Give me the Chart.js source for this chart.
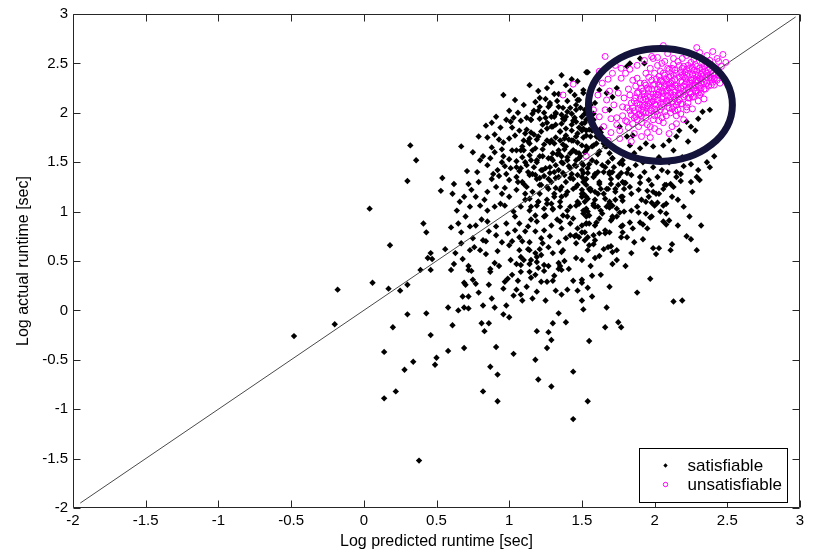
<!DOCTYPE html>
<html>
<head>
<meta charset="utf-8">
<title>Predicted vs actual runtime</title>
<script src="https://cdn.jsdelivr.net/npm/chart.js@4/dist/chart.umd.min.js"></script>
<style>
  html, body { margin: 0; padding: 0; background: #fff; }
  #wrap { width: 818px; height: 553px; }
</style>
</head>
<body>
<div id="wrap"><canvas id="runtimeChart" width="818" height="553"></canvas></div>
<script>
// ---- data ----
const seriesNames = ["satisfiable", "unsatisfiable"];
const xTitle = "Log predicted runtime [sec]";
const yTitle = "Log actual runtime [sec]";

const xTicks = [-2, -1.5, -1, -0.5, 0, 0.5, 1, 1.5, 2, 2.5, 3];
const xTickLabels = ["-2", "-1.5", "-1", "-0.5", "0", "0.5", "1", "1.5", "2", "2.5", "3"];
const yTicks = [-2, -1.5, -1, -0.5, 0, 0.5, 1, 1.5, 2, 2.5, 3];
const yTickLabels = ["-2", "-1.5", "-1", "-0.5", "0", "0.5", "1", "1.5", "2", "2.5", "3"];

// y = x reference line
const diagonal = [[-1.95, -1.95], [2.97, 2.97]];

// satisfiable instances [predicted, actual]
const satisfiable = [
  [0.32,1.67],[0.36,1.52],[0.30,1.31],[0.04,1.03],[0.41,0.88],[0.43,0.79],[0.18,0.66],[0.46,0.58],[0.44,0.53],[0.47,0.52],
  [0.39,0.41],[0.46,0.41],[-0.18,0.21],[0.06,0.28],[0.17,0.22],[0.25,0.20],[0.30,0.26],[0.30,-0.04],[0.43,-0.03],[0.20,-0.17],
  [0.46,-0.25],[-0.20,-0.14],[-0.48,-0.26],[0.14,-0.42],[0.50,-0.48],[0.49,-0.55],[0.34,-0.52],[0.28,-0.60],[0.22,-0.82],[0.14,-0.89],
  [0.38,-1.52],
  [0.63,0.58],[0.73,0.61],[0.80,0.61],[0.84,0.57],[0.62,0.47],[0.60,0.41],[0.72,0.45],[0.72,0.41],[0.69,0.28],[0.70,0.26],
  [0.75,0.31],[0.77,0.27],[0.68,0.14],[0.72,0.14],[0.58,0.03],[0.65,0.00],[0.69,0.03],[0.72,0.02],[0.61,-0.15],[0.82,0.05],
  [0.90,0.03],[0.81,-0.13],[0.86,-0.13],[0.83,-0.21],[0.96,-0.04],[1.00,-0.07],[0.87,0.39],[0.90,0.48],[0.87,0.42],[0.86,0.26],
  [1.01,0.51],[0.96,0.22],[0.97,0.29],[0.99,0.32],[1.02,0.36],[1.03,0.15],[1.08,0.16],[1.05,0.21],[1.09,0.10],[1.12,0.24],
  [1.07,0.61],[1.14,0.61],[1.08,0.54],[1.10,0.51],[1.05,0.47],[1.08,0.46],[1.14,0.47],[1.08,0.39],[1.14,0.39],[1.18,0.58],
  [1.19,0.54],[1.22,0.56],[1.15,0.51],[1.19,0.49],[1.24,0.46],[1.20,0.43],[1.18,0.36],[1.15,0.33],[1.24,0.40],[1.22,0.29],
  [1.26,0.29],[1.30,0.30],[1.31,0.35],[1.19,0.19],[1.25,0.10],[1.34,0.48],[1.35,0.45],[1.34,0.42],[1.36,0.41],[1.36,0.59],
  [1.37,0.61],[1.46,0.53],[1.50,0.51],[1.44,0.30],[1.50,0.31],[1.50,0.28],[1.40,0.21],[1.36,0.16],[1.54,0.23],[1.50,0.10],
  [1.51,0.01],[1.34,-0.03],[1.30,-0.13],[1.39,-0.12],[1.19,-0.21],[1.27,-0.22],[1.29,-0.30],[1.26,-0.38],[0.91,-0.37],[0.69,-0.38],
  [0.58,-0.41],[1.03,-0.44],[1.18,-0.50],[0.87,-0.57],[0.92,-0.65],[1.20,-0.70],[1.29,-0.77],[1.44,-0.62],[0.82,-0.82],[0.92,-0.92],
  [1.44,-1.10],[1.54,-0.92],[1.55,-0.31],
  [1.51,1.39],[1.54,1.39],[1.59,1.38],[1.61,1.40],[1.69,1.38],[1.71,1.40],[1.77,1.39],[1.84,1.37],[1.90,1.35],[1.90,1.29],
  [1.93,1.40],[2.02,1.35],[2.09,1.40],[2.15,1.40],[2.18,1.38],[2.18,1.31],[2.11,1.28],[2.08,1.27],[2.13,1.25],[2.29,1.35],
  [2.31,1.32],[1.51,1.30],[1.53,1.27],[1.50,1.22],[1.56,1.23],[1.59,1.20],[1.63,1.23],[1.65,1.18],[1.68,1.23],[1.70,1.28],
  [1.73,1.23],[1.75,1.27],[1.78,1.30],[1.79,1.23],[1.84,1.18],[1.78,1.15],[1.89,1.22],[1.95,1.21],[1.98,1.27],[1.99,1.20],
  [2.01,1.18],[2.03,1.18],[2.06,1.23],[2.07,1.27],[2.16,1.12],[1.91,1.12],[1.94,1.10],[1.98,1.09],[2.00,1.06],[2.02,1.09],
  [2.06,1.06],[2.08,1.08],[1.50,1.15],[1.52,1.10],[1.54,1.13],[1.58,1.08],[1.59,1.12],[1.61,1.05],[1.66,1.13],[1.69,1.10],
  [1.71,1.06],[1.53,1.03],[1.54,1.00],[1.55,0.96],[1.51,0.98],[1.59,1.05],[1.67,1.05],[1.69,1.04],[1.76,0.99],[1.84,1.01],
  [1.89,0.99],[1.94,0.98],[1.97,0.94],[1.98,0.95],[2.08,0.98],[1.70,0.91],[1.71,0.93],[1.74,0.95],[1.78,0.86],[1.77,0.85],
  [1.83,0.89],[1.85,0.83],[1.90,0.89],[1.92,0.87],[1.95,0.83],[2.06,0.90],[2.08,0.87],[2.10,0.91],[2.16,0.86],[2.32,0.86],
  [1.50,0.86],[1.53,0.88],[1.55,0.88],[1.59,0.86],[1.60,0.89],[1.50,0.79],[1.48,0.74],[1.54,0.74],[1.58,0.76],[1.59,0.71],
  [1.58,0.67],[1.62,0.78],[1.66,0.81],[1.66,0.78],[1.69,0.79],[1.78,0.79],[1.81,0.74],[1.77,0.74],[1.86,0.69],[2.22,0.75],
  [2.25,0.72],[2.29,0.61],[2.12,0.67],[2.11,0.61],[1.99,0.63],[2.03,0.63],[2.01,0.57],[1.65,0.62],[1.68,0.64],[1.70,0.65],
  [1.74,0.61],[1.71,0.59],[1.54,0.61],[1.59,0.53],[1.56,0.45],[1.84,0.58],[1.74,0.51],[1.71,0.47],[1.63,0.36],[1.69,0.24],
  [1.57,0.14],[1.67,0.03],[1.88,0.18],[1.97,0.32],[2.13,0.09],[2.19,0.10],[1.75,-0.12],[1.77,-0.17],[1.66,-0.17],
  [1.36,2.38],[1.43,2.34],[1.29,2.31],[1.14,2.28],[0.96,2.18],[1.04,2.13],[1.10,2.08],[1.18,2.11],[1.21,2.15],[1.25,2.14],
  [1.31,2.19],[1.34,2.19],[1.42,2.22],[1.53,2.41],[1.28,2.10],[1.27,2.06],[1.34,2.06],[1.37,2.05],[1.40,2.01],[1.45,2.18],
  [1.47,2.13],[1.51,2.20],[0.84,1.87],[0.88,1.90],[0.91,1.96],[0.98,1.93],[1.01,1.91],[1.03,1.95],[1.15,1.93],[1.21,1.94],
  [1.25,1.95],[1.29,1.96],[1.32,2.00],[1.36,1.98],[1.39,1.96],[1.43,1.99],[1.46,2.03],[1.50,1.96],[1.53,1.93],[0.79,1.76],
  [0.85,1.75],[0.93,1.73],[1.00,1.74],[1.04,1.77],[1.07,1.82],[1.12,1.83],[1.15,1.80],[1.19,1.73],[1.22,1.81],[1.26,1.84],
  [1.29,1.86],[1.32,1.88],[1.36,1.89],[1.39,1.84],[1.43,1.88],[1.46,1.91],[1.50,1.82],[1.53,1.77],[0.67,1.66],[0.88,1.65],
  [0.95,1.63],[1.05,1.62],[1.09,1.66],[1.14,1.69],[1.18,1.64],[1.24,1.68],[1.29,1.72],[1.32,1.75],[1.35,1.72],[1.39,1.77],
  [1.43,1.72],[1.46,1.76],[1.50,1.67],[1.53,1.66],[0.87,1.54],[0.96,1.56],[1.00,1.53],[1.05,1.51],[1.09,1.55],[1.15,1.52],
  [1.21,1.56],[1.27,1.54],[1.30,1.59],[1.34,1.62],[1.38,1.63],[1.42,1.59],[1.46,1.60],[1.48,1.54],[0.71,1.41],[0.85,1.47],
  [0.92,1.42],[0.97,1.46],[1.01,1.44],[1.07,1.41],[1.12,1.47],[1.17,1.45],[1.23,1.42],[1.28,1.45],[1.32,1.47],[1.37,1.49],
  [1.42,1.44],[1.46,1.46],[1.51,1.47],[0.54,1.34],[0.79,1.30],[0.88,1.33],[0.93,1.36],[1.00,1.32],[1.05,1.35],[1.09,1.30],
  [1.14,1.37],[1.19,1.33],[1.24,1.36],[1.29,1.30],[1.34,1.35],[1.38,1.37],[1.44,1.33],[1.50,1.35],[0.53,1.21],[0.61,1.18],
  [0.69,1.15],[0.77,1.15],[0.85,1.20],[0.91,1.25],[0.95,1.18],[1.00,1.15],[1.05,1.22],[1.11,1.18],[1.14,1.13],[1.21,1.18],
  [1.26,1.25],[1.31,1.15],[1.35,1.22],[1.39,1.17],[1.44,1.23],[1.50,1.18],[1.53,1.15],[0.64,1.01],[0.73,1.05],[0.80,1.06],
  [0.85,1.01],[0.90,1.05],[0.97,1.06],[1.03,1.00],[1.08,1.05],[1.14,1.01],[1.19,1.06],[1.24,1.03],[1.29,1.08],[1.35,1.05],
  [1.40,1.01],[1.46,1.06],[1.51,1.01],[0.60,0.84],[0.65,0.88],[0.67,0.79],[0.73,0.85],[0.77,0.86],[0.85,0.90],[0.91,0.85],
  [0.98,0.88],[1.04,0.81],[1.07,0.88],[1.13,0.85],[1.19,0.90],[1.24,0.81],[1.29,0.86],[1.36,0.83],[1.42,0.88],[1.47,0.83],
  [1.53,0.88],[0.56,0.62],[0.67,0.68],[0.75,0.73],[0.82,0.71],[0.91,0.76],[0.95,0.69],[1.00,0.66],[1.07,0.74],[1.14,0.69],
  [1.22,0.73],[1.27,0.64],[1.34,0.69],[1.39,0.73],[1.46,0.68],[1.52,0.71],[1.42,0.76],[1.46,0.76],[1.52,0.79],
  [1.54,2.41],[1.51,2.23],[1.48,2.13],[1.52,2.03],[1.50,1.89],[1.53,1.82],[1.56,1.76],[1.58,1.67],[1.62,1.74],[1.66,1.66],
  [1.69,1.59],[1.71,1.54],[1.75,1.62],[1.78,1.52],[1.83,1.67],[1.86,1.59],[1.90,1.64],[1.94,1.69],[1.99,1.66],[2.06,1.67],
  [2.10,1.72],[2.15,1.76],[2.17,1.82],[2.22,1.91],[2.25,1.86],[2.30,1.94],[2.33,2.01],[2.38,2.03],[2.28,1.82],[2.23,1.71],
  [2.13,1.62],[2.03,1.55],[2.19,1.55],[2.30,1.42],[2.38,1.45],[1.81,2.47],[1.83,2.50],[1.93,2.50],[1.90,2.55],[1.62,2.23],
  [1.67,2.20],[1.71,2.16],[1.74,2.25],[1.59,2.10],[1.58,1.99],[1.69,2.03],[1.76,1.86],[1.63,1.84],[1.81,1.76],[1.85,1.77],
  [1.59,2.33],[1.52,1.60],[2.30,1.60],[2.36,1.50],[2.25,1.48],[2.41,1.56],
  [1.12,1.95],[1.17,1.78],[1.20,2.02],[1.23,1.63],[1.26,1.90],[1.28,1.70],[1.31,1.96],[1.33,1.58],[1.35,1.81],[1.37,1.68],
  [1.38,1.93],[1.40,1.55],[1.41,1.73],[1.43,1.82],[1.44,1.62],[1.45,1.95],[1.47,1.70],[1.48,1.85],[1.49,1.56],[1.51,1.75],
  [1.52,1.90],[1.54,1.64],[1.55,1.83],[1.57,1.52],[1.58,1.93],[1.60,1.69],[1.61,1.58],[1.63,1.80],[1.64,1.47],[1.66,1.72],
  [1.16,1.38],[1.19,1.50],[1.22,1.27],[1.25,1.44],[1.27,1.33],[1.30,1.52],[1.32,1.24],[1.34,1.42],[1.36,1.56],[1.39,1.30],
  [1.41,1.46],[1.43,1.38],[1.46,1.52],[1.47,1.27],[1.50,1.42],[1.53,1.33],[1.55,1.48],[1.56,1.21],[1.59,1.37],[1.62,1.28],
  [1.65,1.40],[1.68,1.50],[1.70,1.33],[1.72,1.45],[1.75,1.36],[1.78,1.48],[1.80,1.29],[1.82,1.43],[1.87,1.47],[1.92,1.50],
  [1.96,1.32],[1.99,1.45],[2.05,1.42],[2.10,1.50],[2.15,1.35],[2.20,1.46],[2.25,1.30],[1.05,1.45],[1.08,1.62],[1.10,1.28],
  [1.13,1.71],[0.98,1.38],[1.02,1.85],[0.95,1.50],[1.06,2.00],[0.90,1.78],[0.82,1.56],[1.20,1.10],[1.30,1.02],[1.40,0.95],
  [1.48,1.08],[1.35,0.90],[1.25,0.96],[1.15,0.92],[1.45,0.75],[1.55,0.66],[1.30,0.58],
  [1.15,1.93],[1.16,1.99],[1.21,2.06],[1.28,2.08],[1.32,1.99],[1.37,1.94],[1.42,2.05],[1.46,2.08],[1.52,1.99],[1.23,1.88],
  [1.30,1.86],[1.35,1.81],[1.11,1.79],[1.14,1.74],[1.20,1.76],[1.26,1.72],[1.31,1.69],[1.38,1.74],[1.44,1.72],[1.47,1.79],
  [1.51,1.84],[1.57,1.82],[1.60,1.76],[1.65,1.69],[1.39,1.66],[1.44,1.62],[1.48,1.59],[1.53,1.62],[1.57,1.66],[1.62,1.61],
  [1.67,1.66],[1.10,1.62],[1.14,1.57],[1.19,1.52],[1.23,1.56],[1.29,1.54],[1.34,1.59],[1.36,1.50],[1.40,1.52],[1.45,1.47],
  [1.50,1.49],[1.54,1.44],[1.60,1.50],[1.66,1.45],[1.71,1.54],[1.76,1.49],[1.81,1.57],[1.08,1.44],[1.13,1.40],[1.18,1.37],
  [1.22,1.42],[1.28,1.39],[1.32,1.34],[1.37,1.39],[1.42,1.34],[1.47,1.37],[1.52,1.32],[1.58,1.35],[1.62,1.30],[1.69,1.40],
  [1.75,1.35],[1.79,1.29],[1.12,1.25],[1.16,1.20],[1.21,1.27],[1.27,1.23],[1.31,1.18],[1.36,1.25],[1.40,1.20],[1.46,1.25],
  [1.51,1.18],[1.55,1.23],[1.61,1.18],[1.67,1.23],[1.73,1.20],[1.77,1.15],[1.11,1.12],[1.15,1.05],[1.20,1.10],[1.26,1.08],
  [1.30,1.03],[1.35,1.10],[1.42,1.05],[1.47,1.10],[1.52,1.01],[1.58,1.06],[1.63,1.01],[1.69,1.08],[1.74,1.03],[1.79,1.00],
  [1.18,0.96],[1.24,0.95],[1.37,0.96],[1.44,0.93],[1.53,0.95],[1.62,0.93],[1.71,0.95],[1.78,1.11],[1.81,1.39],
  [0.62,1.28],[0.66,1.10],[0.70,0.95],[0.74,1.22],[0.76,0.64],[0.78,1.40],[0.81,0.92],[0.83,1.12],[0.86,0.80],[0.89,1.38],
  [0.92,0.60],[0.94,1.08],[0.97,1.24],[0.99,0.78],[1.02,1.62],[1.04,0.95],[1.06,1.30],[1.09,0.70],[1.11,1.50],[1.13,0.62],
  [1.16,1.62],[1.18,0.80],[1.21,1.34],[1.23,0.68],[1.26,1.12],[1.28,0.75],[1.31,1.40],[1.33,0.92],[1.36,1.15],[1.38,0.50],
  [0.68,0.52],[0.74,0.40],[0.79,0.18],[0.84,0.70],[0.88,0.12],[0.93,0.45],[0.98,0.05],[1.02,0.70],[1.06,0.30],[1.11,0.80],
  [1.16,0.12],[1.21,0.62],[1.27,0.45],[1.32,0.20],[1.41,0.42],[1.47,0.20],[1.57,0.35],[1.62,0.55],[1.80,0.45],[1.92,0.72],
  [1.96,1.15],[2.04,1.00],[2.12,1.15],[2.20,1.05],[2.26,1.20],[2.24,0.95],[1.88,1.05],[1.83,1.25],[1.73,1.12],[1.64,0.98],
  [1.20,2.22],[1.26,2.25],[1.39,2.28],[1.47,2.32],[1.33,2.12],[1.40,2.12],[1.49,2.05],[1.44,1.92],[1.56,2.08],[1.08,1.92],
  [1.00,2.02],[0.94,1.85],[1.17,2.02],[1.24,2.00],[1.10,1.72],[0.96,1.70],[0.90,1.60],[0.80,1.52],[0.75,1.60],[0.72,1.28]
];

// unsatisfiable instances [predicted, actual]
const unsatisfiable = [
  [1.44,2.29],[1.37,2.18],[1.53,1.56],
  [1.66,2.57],[1.98,2.57],[2.02,2.56],[2.06,2.68],[2.29,2.66],[2.36,2.58],[2.47,2.59],[2.44,2.52],[2.49,2.51],[1.93,2.53],
  [1.71,2.40],[1.77,2.45],[1.83,2.44],[1.85,2.33],[1.64,2.30],[1.68,2.34],[1.61,2.18],[1.67,2.13],[1.62,1.96],[1.70,1.94],
  [1.74,1.95],[1.66,2.03],[1.81,1.91],[1.70,1.80],[1.76,1.74],[1.84,1.71],[1.91,1.76],[1.97,1.75],[2.03,1.81],[2.10,1.79],
  [1.78,2.06],[1.79,2.15],[2.41,2.35],[2.41,2.28],[2.22,2.03],[2.15,1.89],
  [1.80,1.92],[1.81,2.05],[1.82,1.85],[1.83,2.18],[1.84,1.98],[1.82,2.24],[1.85,1.89],[1.84,2.10],
  [1.86,2.02],[1.87,2.27],[1.88,1.93],[1.87,2.15],[1.89,1.86],[1.90,2.08],[1.88,2.35],[1.90,1.99],[1.89,2.21],
  [1.91,1.90],[1.92,2.13],[1.93,2.30],[1.92,2.01],[1.94,1.95],[1.93,2.19],[1.95,2.07],[1.94,2.40],[1.95,1.88],[1.91,2.25],
  [1.96,2.00],[1.97,2.16],[1.98,2.33],[1.96,2.09],[1.99,1.93],[1.98,2.24],[2.00,2.04],[1.97,2.45],[2.00,2.29],[1.99,2.12],[1.97,1.86],
  [2.01,2.19],[2.02,1.98],[2.03,2.37],[2.01,2.08],[2.04,2.26],[2.03,1.92],[2.05,2.14],[2.02,2.48],[2.04,2.03],[2.05,2.32],[2.03,2.21],
  [2.06,2.09],[2.07,2.27],[2.08,1.97],[2.06,2.40],[2.09,2.17],[2.08,2.34],[2.10,2.05],[2.07,2.52],[2.09,2.23],[2.10,2.44],[2.06,1.90],[2.08,2.12],
  [2.11,2.30],[2.12,2.11],[2.13,2.38],[2.11,2.00],[2.14,2.21],[2.13,2.49],[2.15,2.08],[2.12,2.26],[2.14,2.34],[2.15,1.97],[2.11,2.16],[2.13,2.55],
  [2.16,2.25],[2.17,2.13],[2.18,2.41],[2.16,2.03],[2.19,2.31],[2.18,2.19],[2.20,2.47],[2.17,2.36],[2.19,2.09],[2.20,2.27],[2.16,2.52],[2.18,1.99],
  [2.21,2.18],[2.22,2.38],[2.23,2.10],[2.21,2.29],[2.24,2.45],[2.23,2.24],[2.25,2.33],[2.22,2.06],[2.24,2.15],[2.25,2.51],[2.21,2.41],
  [2.26,2.27],[2.27,2.16],[2.28,2.39],[2.26,2.46],[2.29,2.22],[2.28,2.32],[2.30,2.12],[2.27,2.54],[2.29,2.42],[2.30,2.28],
  [2.31,2.35],[2.32,2.20],[2.33,2.44],[2.31,2.27],[2.34,2.31],[2.33,2.51],[2.35,2.24],[2.32,2.39],
  [2.36,2.30],[2.37,2.43],[2.38,2.36],[2.36,2.49],[2.39,2.28],[2.40,2.40],[2.38,2.53],
  [2.41,2.34],[2.42,2.45],[2.44,2.38],[2.45,2.30],[2.43,2.55],[2.46,2.47],
  [1.72,2.08],[1.75,2.20],[1.74,1.88],[1.78,1.97],[1.69,2.22],[1.77,2.35],[1.73,2.48],[1.80,2.40],[1.76,1.82],[1.86,1.79],
  [1.95,1.80],[2.00,1.84],[2.12,1.86],[2.20,1.93],[2.26,2.04],[2.34,2.14],[1.88,2.48],[1.99,2.55],[2.09,2.60],[2.22,2.58],
  [2.31,2.61],[2.40,2.62],[1.62,2.42],[1.58,2.03],[1.65,1.86],[1.68,1.72],
  [1.85,2.05],[1.86,2.12],[1.87,1.96],[1.88,2.20],[1.89,2.04],[1.90,2.14],[1.91,1.97],[1.92,2.22],[1.93,2.08],[1.94,2.28],
  [1.95,2.17],[1.96,2.36],[1.97,2.03],[1.98,2.11],[1.99,2.19],[2.00,1.97],[2.01,2.34],[2.02,2.13],[2.03,2.28],[2.04,2.42],
  [2.05,2.06],[2.06,2.20],[2.07,2.01],[2.08,2.29],[2.09,2.45],[2.10,2.13],[2.11,2.37],[2.12,2.04],[2.13,2.18],[2.14,2.43],
  [2.15,2.27],[2.16,2.11],[2.17,2.48],[2.18,2.25],[2.19,2.38],[2.20,2.16],[2.21,2.35],[2.22,2.23],[2.23,2.48],[2.24,2.30],
  [2.25,2.19],[2.26,2.39],[2.27,2.25],[2.28,2.49],[2.29,2.33],[2.30,2.20],[2.31,2.45],[2.32,2.30],[2.33,2.37],[2.34,2.24],
  [2.35,2.42],[2.36,2.36],[2.37,2.27],[2.38,2.45],[2.39,2.35],[2.40,2.31],[2.42,2.40],[2.43,2.33],
  [1.92,2.06],[1.96,2.24],[2.00,2.16],[2.04,2.10],[2.08,2.22],[2.12,2.32],[2.16,2.18],[2.20,2.37],[2.24,2.21],[2.28,2.28],
  [2.32,2.34],[2.36,2.40],[1.94,2.14],[1.98,2.02],[2.02,2.24],[2.06,2.31],[2.10,2.25],[2.14,2.14],[2.18,2.32],[2.22,2.44],
  [2.26,2.33],[2.30,2.38],[2.34,2.47],[1.88,2.10],[1.90,2.30],[2.00,2.40],[2.05,2.50],[2.12,2.45],[2.19,2.55],[2.27,2.43],
  [1.83,2.02],[1.86,1.95],[2.05,1.95],[2.14,2.02],[2.23,2.15],[2.31,2.18],
  [1.91,2.03],[1.93,2.16],[1.95,2.25],[1.97,2.10],[1.99,2.28],[2.01,2.01],[2.02,2.18],[2.04,2.33],[2.06,2.16],[2.07,2.38],
  [2.09,2.10],[2.10,2.29],[2.11,2.20],[2.13,2.06],[2.14,2.28],[2.15,2.40],[2.17,2.20],[2.18,2.09],[2.19,2.45],[2.20,2.22],
  [2.22,2.31],[2.23,2.40],[2.24,2.26],[2.26,2.16],[2.27,2.35],[2.28,2.22],[2.29,2.47],[2.30,2.32],[2.32,2.25],[2.33,2.41],
  [2.35,2.33],[2.37,2.38],[2.39,2.42],[2.41,2.38],[2.44,2.43],[1.89,1.98],[1.94,2.00],[2.00,2.09],[2.05,2.22],[2.10,2.36]
];

// highlight ellipse around the unsatisfiable cluster (data units)
const highlight = { cx: 2.04, cy: 2.08, rx: 0.495, ry: 0.572 };

const toXY = pairs => pairs.map(p => ({ x: p[0], y: p[1] }));

// frame, inward ticks, highlight ellipse and boxed legend (MATLAB look)
const matlabDecor = {
  id: "matlabDecor",
  afterDatasetsDraw(chart) {
    const ctx = chart.ctx;
    const xs = chart.scales.x, ys = chart.scales.y;
    const area = chart.chartArea;

    // ellipse
    const cx = xs.getPixelForValue(highlight.cx);
    const cy = ys.getPixelForValue(highlight.cy);
    const rx = Math.abs(xs.getPixelForValue(highlight.cx + highlight.rx) - cx);
    const ry = Math.abs(ys.getPixelForValue(highlight.cy + highlight.ry) - cy);
    ctx.save();
    ctx.beginPath();
    ctx.ellipse(cx, cy, rx, ry, 0, 0, Math.PI * 2);
    ctx.lineWidth = 7;
    ctx.strokeStyle = "#13133b";
    ctx.stroke();
    ctx.restore();

    // axes box with inward ticks
    const L = Math.round(area.left) + 0.5, R = Math.round(area.right) - 0.5;
    const T = Math.round(area.top) + 0.5, B = Math.round(area.bottom) - 0.5;
    const tick = 7;
    ctx.save();
    ctx.strokeStyle = "#262626";
    ctx.lineWidth = 1;
    ctx.beginPath();
    ctx.rect(L, T, R - L, B - T);
    xTicks.forEach(v => {
      const px = Math.round(xs.getPixelForValue(v)) + 0.5;
      ctx.moveTo(px, B); ctx.lineTo(px, B - tick);
      ctx.moveTo(px, T); ctx.lineTo(px, T + tick);
    });
    yTicks.forEach(v => {
      const py = Math.round(ys.getPixelForValue(v)) + 0.5;
      ctx.moveTo(L, py); ctx.lineTo(L + tick, py);
      ctx.moveTo(R, py); ctx.lineTo(R - tick, py);
    });
    ctx.stroke();

    // legend box (bottom right inside the axes)
    const boxW = 148, boxH = 54;
    const bx = Math.round(area.right - 13 - boxW) + 0.5;
    const by = Math.round(area.bottom - 6 - boxH) + 0.5;
    ctx.fillStyle = "#fff";
    ctx.fillRect(bx, by, boxW, boxH);
    ctx.strokeStyle = "#000";
    ctx.strokeRect(bx, by, boxW, boxH);

    const rowY = [by + 17, by + 36];
    const markX = bx + 26;
    // satisfiable marker
    ctx.fillStyle = "#000";
    ctx.beginPath();
    ctx.moveTo(markX, rowY[0] - 2.2); ctx.lineTo(markX + 2.2, rowY[0]);
    ctx.lineTo(markX, rowY[0] + 2.2); ctx.lineTo(markX - 2.2, rowY[0]);
    ctx.closePath(); ctx.fill();
    // unsatisfiable marker
    ctx.strokeStyle = "#ff00ff";
    ctx.beginPath();
    ctx.arc(markX, rowY[1], 2.2, 0, Math.PI * 2);
    ctx.stroke();

    ctx.fillStyle = "#000";
    ctx.font = "17px 'Liberation Sans', Arial, sans-serif";
    ctx.textBaseline = "middle";
    ctx.textAlign = "left";
    ctx.fillText(seriesNames[0], bx + 48, rowY[0] + 1);
    ctx.fillText(seriesNames[1], bx + 48, rowY[1] + 1);
    ctx.restore();
  }
};

Chart.defaults.font.family = "'Liberation Sans', Arial, sans-serif";
Chart.defaults.color = "#000";

const ctx = document.getElementById("runtimeChart").getContext("2d");
const runtimeChart = new Chart(ctx, {
  type: "scatter",
  data: {
    datasets: [
      {
        label: seriesNames[0],
        data: toXY(satisfiable),
        pointStyle: "rectRot",
        pointRadius: 3.2,
        pointBackgroundColor: "#000",
        pointBorderWidth: 0,
        order: 2
      },
      {
        label: seriesNames[1],
        data: toXY(unsatisfiable),
        pointStyle: "circle",
        pointRadius: 3,
        pointBackgroundColor: "rgba(0,0,0,0)",
        pointBorderColor: "#ff00ff",
        pointBorderWidth: 1,
        order: 1
      },
      {
        type: "line",
        label: "y = x",
        data: toXY(diagonal),
        borderColor: "#4a4a4a",
        borderWidth: 1,
        pointRadius: 0,
        fill: false,
        order: 0
      }
    ]
  },
  options: {
    responsive: false,
    animation: false,
    devicePixelRatio: 1,
    layout: { padding: { top: 14, right: 18, left: 0, bottom: 0 } },
    plugins: {
      legend: { display: false },
      tooltip: { enabled: false }
    },
    scales: {
      x: {
        type: "linear",
        min: -2,
        max: 3,
        afterBuildTicks: scale => { scale.ticks = xTicks.map(v => ({ value: v })); },
        afterFit: scale => { scale.height = 45; },
        grid: { display: false, drawTicks: false },
        border: { display: false },
        ticks: {
          padding: 4,
          font: { size: 15 },
          maxRotation: 0,
          callback: (v, i) => xTickLabels[i]
        },
        title: {
          display: true,
          text: xTitle,
          font: { size: 16 },
          padding: { top: 0, bottom: 2 }
        }
      },
      y: {
        type: "linear",
        min: -2,
        max: 3,
        afterBuildTicks: scale => { scale.ticks = yTicks.map(v => ({ value: v })); },
        afterFit: scale => { scale.width = 73; },
        grid: { display: false, drawTicks: false },
        border: { display: false },
        ticks: {
          padding: 5,
          font: { size: 15 },
          callback: (v, i) => yTickLabels[i]
        },
        title: {
          display: true,
          text: yTitle,
          font: { size: 16 },
          padding: { top: 14, bottom: 0 }
        }
      }
    }
  },
  plugins: [matlabDecor]
});
</script>
</body>
</html>
